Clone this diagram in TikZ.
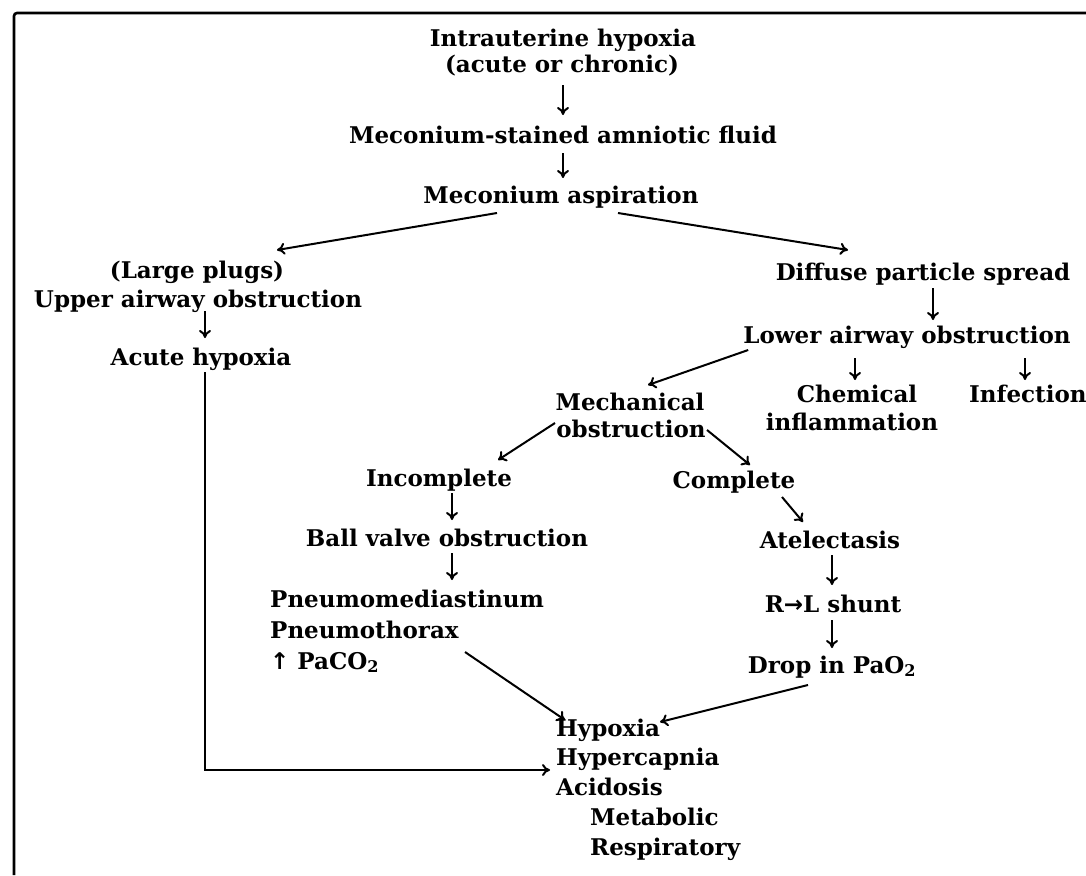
\documentclass[tikz,border=0pt]{standalone}
\usepackage{fontspec}
\setmainfont{DejaVu Serif}
\newfontfamily\symfont{DejaVu Sans}
\usetikzlibrary{arrows.meta,calc}
\tikzset{
  txt/.style={font=\bfseries\fontsize{23}{30}\selectfont, inner sep=0pt, anchor=base},
  txtl/.style={txt, anchor=base west},
  arr/.style={line width=2pt, -{To[length=8pt,width=12pt]}},
  frame/.style={line width=2.6pt}
}
\newcommand{\upar}{{\symfont\char"2191}}
\newcommand{\rtar}{{\symfont\char"2192}}
\begin{document}
\begin{tikzpicture}[x=1pt,y=-1pt]
\useasboundingbox (0,0) rectangle (1086,875);
\draw[frame, rounded corners=3pt] (14,875) -- (14,13) -- (1086,13);

\node[txt] (intraA) at (563,47) {Intrauterine hypoxia};
\node[txt] (intraB) at (562,73) {(acute or chronic)};
\node[txt] (stained) at (563,143) {Meconium-stained amniotic fluid};
\node[txt] (aspir) at (561,203) {Meconium aspiration};
\node[txt] (plugs) at (197,278) {(Large plugs)};
\node[txt] (upper) at (198,307) {Upper airway obstruction};
\node[txt] (acute) at (201,365) {Acute hypoxia};
\node[txt] (diffuse) at (923,280) {Diffuse particle spread};
\node[txt] (lower) at (907,343) {Lower airway obstruction};
\node[txt] (chem) at (857,402) {Chemical};
\node[txt] (inflam) at (852,430) {inflammation};
\node[txtl] (infect) at (969,402) {Infection};
\node[txt] (mech) at (630,410) {Mechanical};
\node[txt] (obstr) at (631,437) {obstruction};
\node[txt] (incompl) at (439,486) {Incomplete};
\node[txt] (ball) at (447,546) {Ball valve obstruction};
\node[txtl] (pneuA) at (270,607) {Pneumomediastinum};
\node[txtl] (pneuB) at (270,638) {Pneumothorax};
\node[txtl] (paco) at (270,669) {\upar\ PaCO\textsubscript{2}};
\node[txt] (compl) at (734,488) {Complete};
\node[txt] (atel) at (830,548) {Atelectasis};
\node[txt] (shunt) at (833,612) {R\rtar L shunt};
\node[txt] (drop) at (832,673) {Drop in PaO\textsubscript{2}};
\node[txtl] (hypox) at (556,736) {Hypoxia};
\node[txtl] (hypercap) at (556,765) {Hypercapnia};
\node[txtl] (acid) at (556,795) {Acidosis};
\node[txtl] (metab) at (590,825) {Metabolic};
\node[txtl] (resp) at (590,855) {Respiratory};

\draw[arr] ($(intraB.base)+(1,12)$) -- ($(stained.base)+(0,-28)$);
\draw[arr] ($(stained.base)+(0,10)$) -- ($(aspir.base)+(2,-25)$);
\draw[arr] ($(aspir.base)+(-64,10)$) -- ($(plugs.base)+(80,-28)$);
\draw[arr] ($(aspir.base)+(57,10)$) -- ($(diffuse.base)+(-75,-30)$);
\draw[arr] ($(upper.base)+(7,4)$) -- ($(acute.base)+(4,-27)$);
\draw[arr] ($(diffuse.base)+(10,8)$) -- ($(lower.base)+(26,-23)$);
\draw[arr] ($(lower.base)+(-52,15)$) -- ($(chem.base)+(-2,-22)$);
\draw[arr] ($(lower.base)+(118,15)$) -- ($(infect.base west)+(56,-22)$);
\draw[arr] ($(lower.base west)+(5,7)$) -- ($(mech.base)+(18,-25)$);
\draw[arr] ($(obstr.base)+(-76,-14)$) -- ($(incompl.base)+(59,-26)$);
\draw[arr] ($(obstr.base)+(76,-7)$) -- ($(compl.base)+(16,-23)$);
\draw[arr] ($(incompl.base)+(13,7)$) -- ($(ball.base)+(5,-26)$);
\draw[arr] ($(ball.base)+(5,7)$) -- ($(pneuA.base west)+(182,-27)$);
\draw[arr] ($(compl.base)+(48,9)$) -- ($(atel.base)+(-27,-26)$);
\draw[arr] ($(atel.base)+(2,7)$) -- ($(shunt.base)+(-1,-27)$);
\draw[arr] ($(shunt.base)+(-1,8)$) -- ($(drop.base)+(0,-25)$);
\draw[arr] ($(pneuB.base west)+(195,14)$) -- ($(hypox.base west)+(9,-16)$);
\draw[arr] ($(drop.base)+(-24,12)$) -- ($(hypox.base west)+(104,-14)$);
\draw[arr] ($(acute.base)+(4,7)$) |- ($(hypercap.base west)+(-6,5)$);
\end{tikzpicture}
\end{document}
